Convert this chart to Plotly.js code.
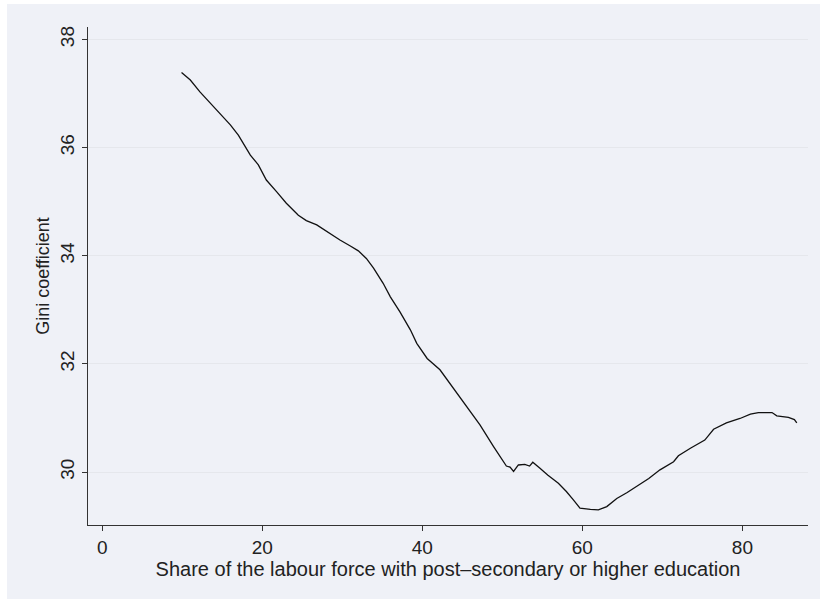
<!DOCTYPE html>
<html>
<head>
<meta charset="utf-8">
<script src="https://cdn.plot.ly/plotly-3.0.1.min.js"></script>
<style>
html, body { margin: 0; padding: 0; background: #ffffff; }
#chart { position: absolute; left: 7px; top: 4px; width: 813px; height: 595px; }
</style>
</head>
<body>
<div id="chart"></div>
<script>
// Share of the labour force with post-secondary or higher education (%)
const share = [9.9, 11.0, 12.2, 13.5, 14.7, 16.0, 17.0, 17.6, 18.5, 19.5, 20.5, 21.8, 23.0, 24.5, 25.5, 26.8, 28.3, 29.7, 31.0, 32.0, 33.0, 33.9, 35.1, 36.0, 37.2, 38.5, 39.3, 40.6, 42.2, 44.7, 47.2, 48.9, 50.5, 50.96, 51.4, 52.0, 52.8, 53.4, 53.8, 54.7, 55.7, 57.0, 58.0, 58.9, 59.7, 61.0, 62.0, 63.05, 64.3, 65.6, 66.8, 68.3, 69.7, 71.4, 72.0, 73.5, 75.3, 76.4, 78.0, 79.7, 81.0, 82.0, 83.7, 84.3, 85.75, 86.5, 86.8];
// Gini coefficient
const gini = [37.39, 37.25, 37.03, 36.82, 36.62, 36.42, 36.23, 36.08, 35.86, 35.68, 35.40, 35.18, 34.97, 34.75, 34.65, 34.57, 34.42, 34.29, 34.18, 34.09, 33.95, 33.77, 33.49, 33.24, 32.96, 32.63, 32.38, 32.10, 31.89, 31.37, 30.87, 30.47, 30.11, 30.09, 30.01, 30.13, 30.14, 30.11, 30.18, 30.07, 29.94, 29.79, 29.64, 29.48, 29.33, 29.31, 29.30, 29.36, 29.51, 29.62, 29.73, 29.88, 30.04, 30.19, 30.30, 30.44, 30.59, 30.79, 30.91, 30.99, 31.07, 31.10, 31.10, 31.04, 31.01, 30.97, 30.91];
const xTicks = [0, 20, 40, 60, 80];
const yTicks = [30, 32, 34, 36, 38];

const bg = '#eff1f7';
const fontFam = 'Liberation Sans, Arial, sans-serif';

const trace = {
  x: share,
  y: gini,
  type: 'scatter',
  mode: 'lines',
  line: { color: '#111111', width: 1.3 },
  hoverinfo: 'x+y'
};

const layout = {
  width: 813,
  height: 595,
  paper_bgcolor: bg,
  plot_bgcolor: bg,
  margin: { l: 81, r: 12, t: 23, b: 74 },
  showlegend: false,
  font: { family: fontFam, color: '#222222', size: 15 },
  xaxis: {
    range: [-1.79, 88.2],
    tickvals: xTicks,
    ticktext: xTicks.map(String),
    showgrid: false,
    zeroline: false,
    showline: true,
    linecolor: '#333333',
    linewidth: 1.2,
    ticks: 'outside',
    ticklen: 5,
    tickcolor: '#333333',
    tickfont: { family: fontFam, size: 19, color: '#222222' },
    title: { text: 'Share of the labour force with post\u2013secondary or higher education', font: { family: fontFam, size: 20, color: '#222222' }, standoff: 0 }
  },
  yaxis: {
    range: [29.02, 38.23],
    tickvals: yTicks,
    ticktext: yTicks.map(String),
    tickangle: -90,
    showgrid: true,
    gridcolor: '#e5e7ec',
    gridwidth: 1,
    zeroline: false,
    showline: true,
    linecolor: '#333333',
    linewidth: 1.2,
    ticks: 'outside',
    ticklen: 5,
    tickcolor: '#333333',
    tickfont: { family: fontFam, size: 19, color: '#222222' },
    title: { text: 'Gini coefficient', font: { family: fontFam, size: 18, color: '#222222' }, standoff: 3 }
  }
};

Plotly.newPlot('chart', [trace], layout, { displayModeBar: false, staticPlot: true });
</script>
</body>
</html>
